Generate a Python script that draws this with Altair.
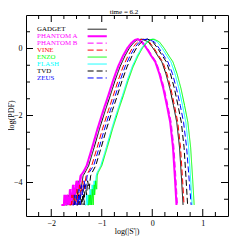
import altair as alt
import pandas as pd

TITLE = ["time = 6.2"]
XTITLE = ["log(|S'|)"]
YTITLE = ["log(PDF)"]
SERIES = ["GADGET", "PHANTOM A", "PHANTOM B", "VINE", "ENZO", "FLASH", "TVD", "ZEUS"]
COLORS = ["#000000", "#ff00ff", "#ff00ff", "#ff0000", "#00ff00", "#00ffff", "#000000", "#0000ff"]
DASHES = [[1, 0], [1, 0], [6, 3], [6, 3], [1, 0], [1, 0], [6, 3], [6, 3]]
WIDTHS = [1, 2, 1, 1, 1, 1, 1, 1]
DRAW_ORDER = ["GADGET", "PHANTOM A", "PHANTOM B", "VINE", "FLASH", "ENZO", "TVD", "ZEUS"]

# y levels at which each curve's x was read (left branch, peak, right branch)
Y_MAIN = [-3.5, -2.95, -2.4, -1.85, -1.4, -0.95, -0.55, -0.22, 0.02, 0.17, 0.26, 0.28,
          0.2, 0.0, -0.22, -0.4, -0.75, -1.2, -1.7, -2.2, -2.95, -3.9, -4.67]
X_MAIN = {
    "PHANTOM A": [-1.30, -1.19, -1.085, -0.97, -0.87, -0.775, -0.68, -0.58, -0.49, -0.41, -0.34, -0.29,
                  -0.21, -0.11, -0.02, 0.06, 0.14, 0.22, 0.29, 0.355, 0.41, 0.45, 0.48],
    "PHANTOM B": [-1.29, -1.18, -1.075, -0.96, -0.86, -0.765, -0.67, -0.57, -0.48, -0.40, -0.33, -0.275,
                  -0.19, -0.09, 0.00, 0.08, 0.16, 0.24, 0.31, 0.375, 0.43, 0.47, 0.50],
    "GADGET":    [-1.26, -1.15, -1.045, -0.93, -0.83, -0.735, -0.64, -0.54, -0.45, -0.37, -0.30, -0.205,
                  -0.08, 0.02, 0.11, 0.19, 0.27, 0.35, 0.42, 0.485, 0.54, 0.58, 0.61],
    "VINE":      [-1.20, -1.09, -0.985, -0.87, -0.77, -0.675, -0.58, -0.48, -0.39, -0.31, -0.24, -0.165,
                  -0.06, 0.04, 0.13, 0.21, 0.29, 0.37, 0.44, 0.505, 0.56, 0.60, 0.63],
    "ZEUS":      [-1.16, -1.05, -0.945, -0.83, -0.73, -0.635, -0.54, -0.44, -0.35, -0.27, -0.20, -0.095,
                  0.04, 0.14, 0.23, 0.31, 0.40, 0.48, 0.555, 0.62, 0.68, 0.73, 0.77],
    "TVD":       [-1.12, -1.01, -0.905, -0.79, -0.69, -0.595, -0.50, -0.40, -0.31, -0.23, -0.16, -0.09,
                  0.01, 0.11, 0.20, 0.28, 0.36, 0.44, 0.51, 0.575, 0.63, 0.67, 0.70],
    "FLASH":     [-1.02, -0.91, -0.805, -0.69, -0.59, -0.495, -0.40, -0.30, -0.21, -0.13, -0.06, 0.005,
                  0.10, 0.20, 0.29, 0.37, 0.45, 0.53, 0.60, 0.665, 0.72, 0.76, 0.79],
    "ENZO":      [-1.00, -0.89, -0.785, -0.67, -0.57, -0.475, -0.38, -0.28, -0.19, -0.11, -0.04, 0.035,
                  0.14, 0.24, 0.33, 0.41, 0.49, 0.57, 0.64, 0.705, 0.76, 0.80, 0.83],
}
# noisy low-count tails on the left (floor = empty bins)
TAIL_Y = [-4.67, -4.67, -4.37, -4.67, -4.37, -4.67, -4.2, -4.67, -4.07, -4.37, -3.95, -4.2, -3.8, -3.7]
TAIL_X = {
    "PHANTOM A": [-1.80, -1.75, -1.74, -1.70, -1.69, -1.65, -1.63, -1.60, -1.57, -1.54, -1.50, -1.46, -1.42, -1.37],
    "PHANTOM B": [-1.78, -1.73, -1.72, -1.68, -1.67, -1.63, -1.61, -1.58, -1.55, -1.52, -1.48, -1.44, -1.40, -1.36],
    "GADGET":    [-1.72, -1.68, -1.67, -1.63, -1.62, -1.59, -1.57, -1.54, -1.51, -1.48, -1.45, -1.41, -1.37, -1.33],
    "VINE":      [-1.64, -1.60, -1.59, -1.56, -1.55, -1.51, -1.49, -1.47, -1.44, -1.41, -1.38, -1.35, -1.31, -1.27],
    "ZEUS":      [-1.58, -1.55, -1.54, -1.51, -1.50, -1.47, -1.45, -1.43, -1.40, -1.38, -1.35, -1.32, -1.29, -1.25],
    "TVD":       [-1.50, -1.47, -1.46, -1.43, -1.42, -1.39, -1.37, -1.35, -1.33, -1.30, -1.28, -1.25, -1.22, -1.19],
    "FLASH":     [-1.33, -1.31, -1.30, -1.28, -1.27, -1.25, -1.23, -1.21, -1.19, -1.17, -1.15, -1.13, -1.11, -1.09],
    "ENZO":      [-1.28, -1.26, -1.25, -1.23, -1.22, -1.20, -1.19, -1.17, -1.15, -1.14, -1.12, -1.10, -1.09, -1.07],
}

X_MAJOR = [-2, -1, 0, 1]
X_MINOR = [-2.25, -1.75, -1.5, -1.25, -0.75, -0.5, -0.25, 0.25, 0.5, 0.75, 1.25]
Y_MAJOR = [-4, -2, 0]
Y_MINOR = [-4.5, -3.5, -3, -2.5, -1.5, -1, -0.5, 0.5]

LEG_Y = [0.576, 0.368, 0.160, -0.048, -0.256, -0.464, -0.672, -0.880]
LEG_TX = -2.28
LEG_L0, LEG_L1 = -1.28, -0.90

W, H = 202, 201
FONT = "Liberation Serif"
xs = alt.Scale(domain=[-2.5, 1.5], nice=False, zero=False)
ys = alt.Scale(domain=[-5, 1], nice=False, zero=False)
XAX = alt.Axis(values=X_MAJOR, ticks=False, domain=False, grid=False,
               labelFont=FONT, labelFontSize=8, labelPadding=3, labelColor="black", title=None)
YAX = alt.Axis(values=Y_MAJOR, ticks=False, domain=False, grid=False,
               labelFont=FONT, labelFontSize=8, labelPadding=4, labelColor="black", title=None)


def X(f="x"):
    return alt.X(f + ":Q", scale=xs, axis=XAX)


def Y(f="y"):
    return alt.Y(f + ":Q", scale=ys, axis=YAX)


layers = []

for name in DRAW_ORDER:
    i = SERIES.index(name)
    xv = TAIL_X[name] + X_MAIN[name]
    yv = TAIL_Y + Y_MAIN
    df = pd.DataFrame({"x": xv, "y": yv, "o": list(range(len(xv)))})
    layers.append(
        alt.Chart(df).mark_line(color=COLORS[i], strokeWidth=WIDTHS[i], strokeDash=DASHES[i],
                                clip=True).encode(x=X(), y=Y(), order="o:Q")
    )

# legend
for i, name in enumerate(SERIES):
    tdf = pd.DataFrame({"x": [LEG_TX], "y": [LEG_Y[i]], "t": [name]})
    layers.append(
        alt.Chart(tdf).mark_text(align="left", baseline="middle", font=FONT, fontSize=6.9,
                                 color=COLORS[i]).encode(x=X(), y=Y(), text="t:N")
    )
    ldf = pd.DataFrame({"x": [LEG_L0, LEG_L1], "y": [LEG_Y[i], LEG_Y[i]]})
    layers.append(
        alt.Chart(ldf).mark_line(color=COLORS[i], strokeWidth=WIDTHS[i],
                                 strokeDash=DASHES[i]).encode(x=X(), y=Y())
    )


# inward ticks on all four sides
def xticks(vals, length):
    df = pd.DataFrame({"x": vals})
    bot = alt.Chart(df).mark_rule(color="black", strokeWidth=1).encode(
        x=X(), y=alt.value(H), y2=alt.value(H - length))
    top = alt.Chart(df).mark_rule(color="black", strokeWidth=1).encode(
        x=X(), y=alt.value(0), y2=alt.value(length))
    return [bot, top]


def yticks(vals, length):
    df = pd.DataFrame({"y": vals})
    lef = alt.Chart(df).mark_rule(color="black", strokeWidth=1).encode(
        y=Y(), x=alt.value(0), x2=alt.value(length))
    rig = alt.Chart(df).mark_rule(color="black", strokeWidth=1).encode(
        y=Y(), x=alt.value(W), x2=alt.value(W - length))
    return [lef, rig]


layers += xticks(X_MAJOR, 7) + xticks(X_MINOR, 4) + yticks(Y_MAJOR, 7) + yticks(Y_MINOR, 4)

layers.append(
    alt.Chart(pd.DataFrame({"t": TITLE})).mark_text(
        font=FONT, fontSize=7, baseline="alphabetic", align="center").encode(
        x=alt.value(W / 2 - 3), y=alt.value(-1), text="t:N")
)
layers.append(
    alt.Chart(pd.DataFrame({"t": XTITLE})).mark_text(
        font=FONT, fontSize=8, baseline="middle", align="center").encode(
        x=alt.value(W / 2), y=alt.value(H + 16), text="t:N")
)
layers.append(
    alt.Chart(pd.DataFrame({"t": YTITLE})).mark_text(
        font=FONT, fontSize=8, baseline="middle", align="center", angle=270).encode(
        x=alt.value(-14.5), y=alt.value(H / 2), text="t:N")
)

chart = alt.layer(*layers).properties(
    width=W, height=H, autosize="none",
    padding={"left": 18, "top": 7, "right": 5, "bottom": 24},
).configure_view(stroke="black", strokeWidth=1)

chart.save("out.html", embed_options={"renderer": "svg", "actions": False})
